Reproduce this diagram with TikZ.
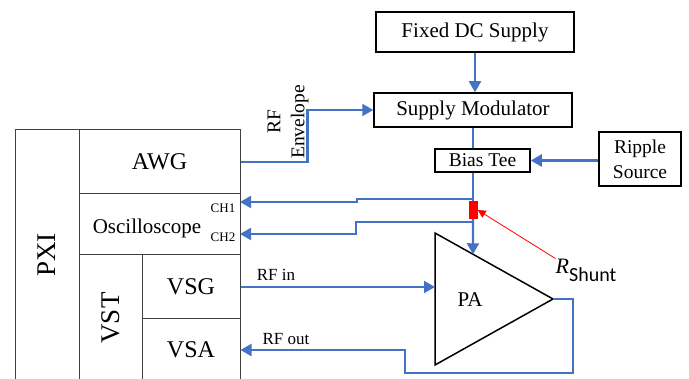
\documentclass[tikz,border=0pt]{standalone}
\usepackage{fontspec}
\setmainfont{Liberation Serif}
\newfontfamily\calfont{Carlito}
\usetikzlibrary{arrows.meta, positioning, calc}
\definecolor{wireblue}{RGB}{68,114,196}
\definecolor{shuntred}{RGB}{255,0,0}

\begin{document}
\begin{tikzpicture}[x=1pt, y=-1pt,
      box/.style={rectangle, draw=black, line width=1.5pt, inner sep=0pt, align=center,
                  font=\fontsize{21}{25}\selectfont},
      cell/.style={rectangle, draw=black!75, line width=1pt, inner sep=0pt,
                   font=\fontsize{24}{28}\selectfont},
      bigcell/.style={cell, font=\fontsize{27}{30}\selectfont},
      wire/.style={line width=2.2pt, wireblue},
      arr/.style={wire, -{Triangle[length=11pt, width=12pt]}},
      lbl/.style={inner sep=0pt, font=\fontsize{17}{20}\selectfont},
      ]
    \useasboundingbox (0,0) rectangle (689,379);
    \clip (0,0) rectangle (689,379);

    % supply path
    \node[box, minimum width=198pt, minimum height=40pt] (fixed) at (475,32) {Fixed DC Supply};
    \node[box, minimum width=198pt, minimum height=34pt] (modul) at (473,110) {Supply Modulator};
    \node[box, minimum width=95pt, minimum height=23pt, font=\fontsize{19.5}{22}\selectfont] (bias) at (482.5,160.5) {Bias Tee};
    \node[box, minimum width=82pt, minimum height=54pt, font=\fontsize{19.5}{25}\selectfont] (ripple) at (640,159) {Ripple\\Source};

    % PXI chassis
    \node[bigcell, minimum width=64pt, minimum height=250pt] (pxi) at (47,255) {\rotatebox{90}{PXI}};
    \node[cell, minimum width=161pt, minimum height=64pt] (awg) at (159.5,162) {AWG};
    \node[cell, minimum width=161pt, minimum height=61pt] (osc) at (159.5,224.5) {};
    \node[bigcell, minimum width=63pt, minimum height=126pt] (vst) at (110.5,318) {\rotatebox{90}{VST}};
    \node[cell, minimum width=98pt, minimum height=64pt] (vsg) at (191,287) {VSG};
    \node[cell, minimum width=98pt, minimum height=62pt] (vsa) at (191,350) {VSA};
    \node[inner sep=0pt, font=\fontsize{21}{25}\selectfont] (osctxt) at (147,228) {Oscilloscope};
    \node[inner sep=0pt, font=\fontsize{13}{15}\selectfont] (ch1) at (223,208) {CH1};
    \node[inner sep=0pt, font=\fontsize{13}{15}\selectfont] (ch2) at (223,237) {CH2};

    % power amplifier
    \coordinate (pa1) at (435,233);
    \coordinate (pa2) at (435,365);
    \coordinate (pa3) at (553,299);
    \coordinate (patop) at ($(pa1)!0.322!(pa3)$);
    \draw[line width=1.5pt] (pa1) -- (pa3) -- (pa2) -- cycle;
    \node[inner sep=0pt, font=\fontsize{21}{24}\selectfont] (pa) at (470,300) {PA};

    % shunt resistor
    \node[rectangle, fill=shuntred, minimum width=9pt, minimum height=18pt, inner sep=0pt] (rs) at (473,210) {};
    \node[inner sep=0pt, font=\fontsize{22}{24}\selectfont] (rlab) at (586,270) {\textit{R}\raisebox{-8pt}{\calfont\fontsize{20}{22}\selectfont Shunt}};

    \coordinate (tap1) at (473,199);
    \coordinate (tap2) at (473,222);
    \coordinate (ch1in) at (240,202);
    \coordinate (ch2in) at (240,234);
    \coordinate (ret) at (405,373);

    \draw[arr] (fixed.south) -- (fixed.south |- modul.north);
    \draw[wire] (modul.south) -- (modul.south |- bias.north);
    \draw[arr] (ripple.west |- bias.east) -- (bias.east);
    \draw[wire] (bias.south -| modul.south) -- (rs.north);
    \draw[arr] (rs.south) -- (patop);
    \draw[arr] (tap1) -- ++(-116,0) |- (ch1in);
    \draw[arr] (tap2) -- ++(-117,0) |- (ch2in);
    \draw[arr] (awg.east) -- ++(67,0) |- (modul.west);
    \draw[arr] (vsg.east) -- (vsg.east -| pa1);
    \draw[arr] (pa3) -- ++(20,0) |- (ret) |- (vsa.east);
    \draw[red, line width=0.8pt, -{Triangle[length=8pt, width=8pt]}] (rlab.north west) -- (rs.east);

    % signal labels
    \node[rotate=90, align=center, inner sep=0pt, font=\fontsize{19.5}{24}\selectfont] (env) at (288,122) {RF\\Envelope};
    \node[lbl] (rfin) at (276,275) {RF in};
    \node[lbl] (rfout) at (286,339) {RF out};
  \end{tikzpicture}
\end{document}
